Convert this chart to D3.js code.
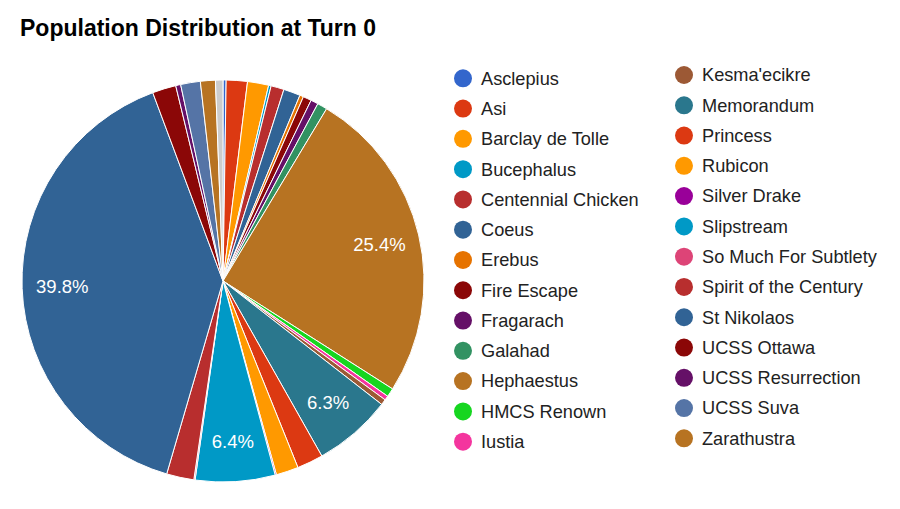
<!DOCTYPE html>
<html><head><meta charset="utf-8">
<script src="https://cdn.jsdelivr.net/npm/d3@7"></script>
<style>body{margin:0;background:#fff;} text{font-family:Arial,"Liberation Sans",sans-serif;}</style>
</head><body>
<svg id="chart" width="900" height="509"></svg>
<script>
const title = "Population Distribution at Turn 0";
const categories = ["Asclepius","Asi","Barclay de Tolle","Bucephalus","Centennial Chicken","Coeus","Erebus","Fire Escape","Fragarach","Galahad","Hephaestus","HMCS Renown","Iustia","Kesma'ecikre","Memorandum","Princess","Rubicon","Silver Drake","Slipstream","So Much For Subtlety","Spirit of the Century","St Nikolaos","UCSS Ottawa","UCSS Resurrection","UCSS Suva","Zarathustra","Other"];
const values = [0.25,1.7,1.7,0.2,1.05,1.35,0.3,0.67,0.6,0.8,25.4,0.7,0.35,0.45,6.3,2.1,1.8,0.1,6.4,0.1,2.2,39.8,1.9,0.4,1.58,1.2,0.6];
const colors = ["#3366cc","#dc3912","#ff9900","#0099c6","#b82e2e","#316395","#e67300","#8b0707","#651067","#329262","#b77322","#16d620","#f4359e","#9c5935","#2a778d","#dc3912","#ff9900","#990099","#0099c6","#dd4477","#b82e2e","#316395","#8b0707","#651067","#5574a6","#b77322","#cccccc"];
const legendCount = 26;

const svg = d3.select("#chart");
svg.append("text").attr("x",20).attr("y",36).attr("font-size",23).attr("font-weight","bold").attr("fill","#000").text(title);

const cx = 223, cy = 281, R = 201;
const data = categories.map((c,i)=>({name:c,value:values[i],color:colors[i]}));
const total = d3.sum(values);
const pie = d3.pie().value(d=>d.value).sort(null);
const arc = d3.arc().innerRadius(0).outerRadius(R);
const g = svg.append("g").attr("transform",`translate(${cx},${cy})`);
const arcs = pie(data);
g.selectAll("path").data(arcs).join("path")
  .attr("d",arc).attr("fill",d=>d.data.color).attr("stroke","#fff").attr("stroke-width",1);
const labelArc = d3.arc().innerRadius(R*0.8).outerRadius(R*0.8);
g.selectAll("text.lbl").data(arcs.filter(d=>d.data.value/total>=0.05)).join("text")
  .attr("class","lbl")
  .attr("transform",d=>`translate(${labelArc.centroid(d)})`)
  .attr("text-anchor","middle").attr("dy","0.35em")
  .attr("font-size",18.5).attr("fill","#fff")
  .text(d=>d3.format(".1%")(d.data.value/total));

const leg = svg.append("g");
const items = data.slice(0,legendCount);
const rowH = 30.28;
items.forEach((d,i)=>{
  const col = i<13?0:1, row = i%13;
  const x = col===0?463:684;
  const y = (col===0?78.3:75) + row*rowH;
  leg.append("circle").attr("cx",x).attr("cy",y).attr("r",9).attr("fill",d.color);
  leg.append("text").attr("x",x+18).attr("y",y).attr("dy","0.35em").attr("font-size",18.2).attr("fill","#222").text(d.name);
});
</script>
</body></html>
